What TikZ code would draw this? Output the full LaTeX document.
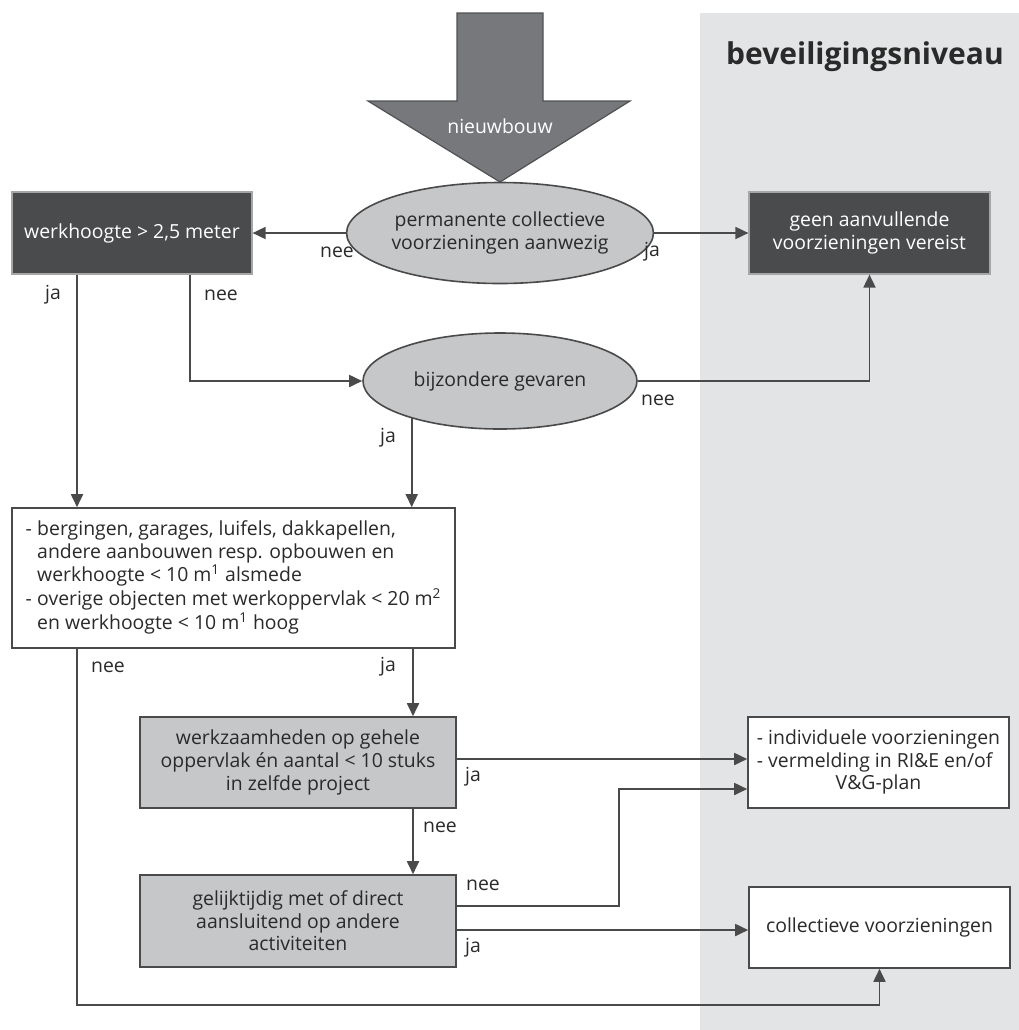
\documentclass[tikz,border=0pt]{standalone}
\usepackage{fontspec}
\setmainfont{Open Sans}
\usetikzlibrary{arrows.meta,shapes.geometric,calc}
\definecolor{bandc}{HTML}{E3E4E6}
\definecolor{darkc}{HTML}{4A4B4D}
\definecolor{lightc}{HTML}{C6C7C9}
\definecolor{arrowc}{HTML}{77787B}
\definecolor{arrowedge}{HTML}{505153}
\definecolor{linec}{HTML}{4A4A4A}
\definecolor{textc}{HTML}{2A2A2A}
\tikzset{
 conn/.style={draw=linec, line width=0.9pt},
 arr/.style={conn, -{Triangle[length=6.5pt,width=6pt]}},
 darkbox/.style={rectangle, draw=gray!70, line width=0.6pt, fill=darkc, text=white, align=center, inner sep=0pt},
 greybox/.style={rectangle, draw=linec, line width=0.8pt, fill=lightc, text=textc, align=center, inner sep=0pt},
 whitebox/.style={rectangle, draw=linec, line width=0.8pt, fill=white, text=textc, inner sep=0pt},
 oval/.style={ellipse, draw=linec, line width=0.8pt, fill=lightc, text=textc, align=center, inner sep=0pt},
 lab/.style={text=textc, inner sep=0pt},
}
\begin{document}
\begin{tikzpicture}[x=0.5pt,y=-0.5pt,font=\fontsize{9.7pt}{11.3pt}\selectfont]
\useasboundingbox (0,0) rectangle (1019,1030);
\fill[bandc] (700,13) rectangle (1019,1030);
\node[text=textc, font=\bfseries\fontsize{15pt}{17pt}\selectfont] (title) at (865,57) {beveiligingsniveau};
% big arrow
\draw[fill=arrowc, draw=arrowedge, line width=0.6pt] (457,13) -- (543,13) -- (543,101) -- (630,101) -- (500,182) -- (368,101) -- (457,101) -- cycle;
\node[text=white] (nb) at (500,126) {nieuwbouw};
% nodes
\node[oval, minimum width=137pt, minimum height=50.5pt] (e1) at (500,233) {permanente collectieve\\voorzieningen aanwezig};
\node[darkbox, minimum width=120pt, minimum height=41pt] (wh) at (132,233) {werkhoogte > 2,5 meter};
\node[darkbox, minimum width=120.5pt, minimum height=41pt] (geen) at (869.5,233) {geen aanvullende\\voorzieningen vereist};
\node[oval, minimum width=137pt, minimum height=48pt] (e2) at (500,381) {bijzondere gevaren};
\node[whitebox, minimum width=221.5pt, minimum height=70pt] (big) at (233.5,578) {\begin{tabular}{@{}l@{\hspace{0.28em}}l@{}}
-& bergingen, garages, luifels, dakkapellen,\\
 & andere aanbouwen resp. opbouwen en\\
 & werkhoogte < 10 m\textsuperscript{1} alsmede\\
-& overige objecten met werkoppervlak < 20 m\textsuperscript{2}\\
 & en werkhoogte < 10 m\textsuperscript{1} hoog
\end{tabular}};
\node[greybox, minimum width=158pt, minimum height=45.5pt] (A) at (298,762.5) {werkzaamheden op gehele\\oppervlak én aantal < 10 stuks\\in zelfde project};
\node[greybox, minimum width=158pt, minimum height=46pt] (B) at (298,921) {gelijktijdig met of direct\\aansluitend op andere\\activiteiten};
\node[whitebox, minimum width=130.5pt, minimum height=45.5pt] (indiv) at (878.5,762.5) {\begin{tabular}{@{}l@{}}
- individuele voorzieningen\\
- vermelding in RI\&E en/of\\
\multicolumn{1}{@{}c@{}}{V\&G-plan}
\end{tabular}};
\node[whitebox, minimum width=130.5pt, minimum height=40.5pt] (coll) at (879.5,927.5) {collectieve voorzieningen};
% helper coordinates
\coordinate (x77) at (77,0);
\coordinate (x190) at (190,0);
\coordinate (x413) at (413,0);
\coordinate (x619) at (619,0);
\coordinate (y1005) at (0,1005);
\coordinate (y906) at (0,906);
\coordinate (y930) at (0,930);
\coordinate (y789) at (0,789);
\coordinate (y759) at (0,759);
% connectors
\draw[arr] (e1.west) -- (wh.east);
\draw[arr] (e1.east) -- (geen.west);
\draw[arr] (wh.south -| x77) -- (big.north -| x77);
\draw[arr] (wh.south -| x190) |- (e2.west);
\draw[arr] (e2.east) -| (geen.south);
\draw[arr] (e2.203) -- (e2.203 |- big.north);
\draw[arr] (big.south -| x413) -- (A.north -| x413);
\draw[arr] (A.south -| x413) -- (B.north -| x413);
\draw[arr] (big.south -| x77) -- (y1005 -| x77) -| (coll.south);
\draw[arr] (A.east |- y759) -- (indiv.west |- y759);
\draw[arr] (B.east |- y906) -| (x619 |- y789) -- (indiv.west |- y789);
\draw[arr] (B.east |- y930) -- (coll.west |- y930);
% labels
\node[lab] (l1) at (337,252) {nee};
\node[lab] (l2) at (652,252) {ja};
\node[lab] (l3) at (53,295) {ja};
\node[lab] (l4) at (221,295) {nee};
\node[lab] (l5) at (658,400) {nee};
\node[lab] (l6) at (388,438) {ja};
\node[lab] (l7) at (108,667) {nee};
\node[lab] (l8) at (388,667) {ja};
\node[lab] (l9) at (473,777) {ja};
\node[lab] (l10) at (440,827) {nee};
\node[lab] (l11) at (483,885) {nee};
\node[lab] (l12) at (473,948) {ja};
\end{tikzpicture}
\end{document}
